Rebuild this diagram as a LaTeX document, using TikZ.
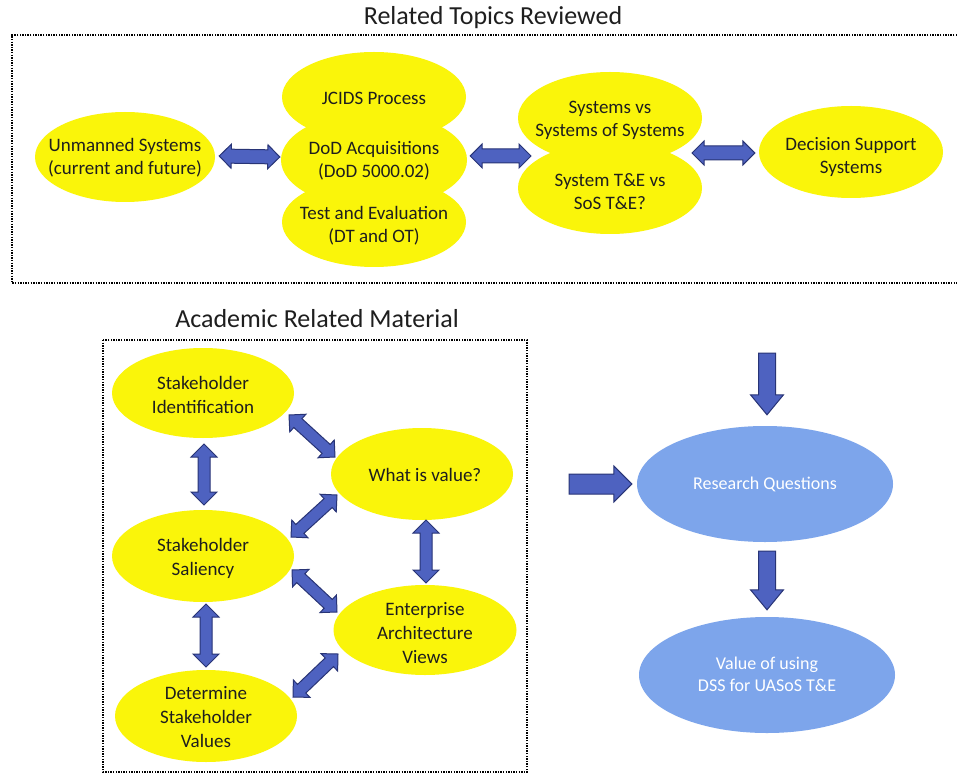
\documentclass[tikz,border=0pt]{standalone}
\usepackage{fontspec}
\setmainfont{Carlito}
\usetikzlibrary{shapes.geometric,calc}
\definecolor{yel}{RGB}{250,245,10}
\definecolor{lblue}{RGB}{125,165,235}
\definecolor{afill}{RGB}{78,98,192}
\definecolor{aline}{RGB}{40,52,118}
\definecolor{tdark}{RGB}{30,30,30}
\tikzset{
  ell/.style={ellipse, fill=yel, inner sep=0pt, draw=none},
  bell/.style={ellipse, fill=lblue, inner sep=0pt, draw=none},
  txt/.style={align=center, text=tdark, font=\fontsize{19}{23}\selectfont, inner sep=0pt},
  txtb/.style={align=center, text=tdark, font=\fontsize{19}{24}\selectfont, inner sep=0pt},
  wtxt/.style={align=center, text=white, font=\fontsize{18}{22}\selectfont, inner sep=0pt},
  ttl/.style={text=tdark, font=\fontsize{26}{30}\selectfont, inner sep=0pt},
  dotbox/.style={draw=black, line width=1.4pt, dash pattern=on 1.4pt off 1.2pt},
  barrow/.style={fill=afill, draw=aline, line width=1pt, line join=miter}
}
\newcommand\dblarr[5]{%
 \filldraw[barrow] (#1)
 -- ($(#1)!#5!(#2)!#4!90:(#2)$)
 -- ($(#1)!#5!(#2)!#3!90:(#2)$)
 -- ($(#2)!#5!(#1)!#3!-90:(#1)$)
 -- ($(#2)!#5!(#1)!#4!-90:(#1)$)
 -- (#2)
 -- ($(#2)!#5!(#1)!#4!90:(#1)$)
 -- ($(#2)!#5!(#1)!#3!90:(#1)$)
 -- ($(#1)!#5!(#2)!#3!-90:(#2)$)
 -- ($(#1)!#5!(#2)!#4!-90:(#2)$)
 -- cycle;}
\newcommand\sglarr[5]{%
 \filldraw[barrow] ($(#1)!#3!90:(#2)$)
 -- ($(#2)!#5!(#1)!#3!-90:(#1)$)
 -- ($(#2)!#5!(#1)!#4!-90:(#1)$)
 -- (#2)
 -- ($(#2)!#5!(#1)!#4!90:(#1)$)
 -- ($(#2)!#5!(#1)!#3!90:(#1)$)
 -- ($(#1)!#3!-90:(#2)$)
 -- cycle;}
\begin{document}
\begin{tikzpicture}[x=1pt,y=-1pt]
\useasboundingbox (0,0) rectangle (957,775);
\fill[white] (0,0) rectangle (957,775);

% ---------- top section ----------
\node[ttl] (t1) at (493,18) {Related Topics Reviewed};
\draw[dotbox] (957,35) -- (12,35) -- (12,283) -- (957,283);

\node[ell, minimum width=180, minimum height=90] (un) at (125,157) {};
\node[ell, minimum width=184, minimum height=90] (jc) at (374,97) {};
\node[ell, minimum width=186, minimum height=96] (dod) at (374,160) {};
\node[ell, minimum width=184, minimum height=90] (te) at (374,222) {};
\node[ell, minimum width=184, minimum height=92] (sv) at (610,118) {};
\node[ell, minimum width=184, minimum height=92] (st) at (610,188) {};
\node[ell, minimum width=184, minimum height=92] (dss) at (851,152) {};

\node[txt] (unt) at (125,158) {Unmanned Systems\\(current and future)};
\node[txt] (jct) at (374,98) {JCIDS Process};
\node[txt] (dodt) at (374,161) {DoD Acquisitions\\(DoD 5000.02)};
\node[txt] (tet) at (374,226) {Test and Evaluation\\(DT and OT)};
\node[txt] (svt) at (610,120) {Systems vs\\Systems of Systems};
\node[txt] (stt) at (610,192) {System T\&E vs\\SoS T\&E?};
\node[txt] (dsst) at (851,157) {Decision Support\\Systems};

\coordinate (a1s) at ($(un.east)+(4,-1)$);
\coordinate (a1e) at ($(dod.west)+(-1,-3)$);
\coordinate (a2s) at ($(dod.east)+(3,-4)$);
\coordinate (a2e) at ($(sv)+(-79,38)$);
\coordinate (a3s) at ($(st)+(82,-35)$);
\coordinate (a3e) at ($(dss.west)+(-4,1)$);
\dblarr{a1s}{a1e}{7pt}{12pt}{12pt}
\dblarr{a2s}{a2e}{7pt}{12pt}{12pt}
\dblarr{a3s}{a3e}{7pt}{12pt}{12pt}

% ---------- academic section ----------
\node[ttl] (t2) at (317,319) {Academic Related Material};
\draw[dotbox] (103,340) rectangle (527,772);

\node[ell, minimum width=182, minimum height=90] (si) at (203,393) {};
\node[ell, minimum width=182, minimum height=92] (wiv) at (422,474) {};
\node[ell, minimum width=182, minimum height=92] (ss) at (203,556) {};
\node[ell, minimum width=183, minimum height=90] (eav) at (425,630) {};
\node[ell, minimum width=182, minimum height=92] (dsv) at (206,716) {};

\node[txtb] (sit) at (203,395) {Stakeholder\\Identification};
\node[txtb] (wivt) at (425,475) {What is value?};
\node[txtb] (sst) at (203,558) {Stakeholder\\Saliency};
\node[txtb] (eavt) at (425,633) {Enterprise\\Architecture\\Views};
\node[txtb] (dsvt) at (206,717) {Determine\\Stakeholder\\Values};

\coordinate (b1s) at ($(si)+(1,51)$);
\coordinate (b1e) at ($(ss)+(1,-51)$);
\coordinate (b2s) at ($(ss)+(3,48)$);
\coordinate (b2e) at ($(dsv)+(0,-49)$);
\coordinate (b3s) at ($(wiv)+(4,46)$);
\coordinate (b3e) at ($(eav)+(1,-47)$);
\coordinate (b4s) at ($(si)+(86,22)$);
\coordinate (b4e) at ($(wiv)+(-87,-17)$);
\coordinate (b5s) at ($(wiv)+(-85,21)$);
\coordinate (b5e) at ($(ss)+(88,-19)$);
\coordinate (b6s) at ($(ss)+(89,14)$);
\coordinate (b6e) at ($(eav)+(-88,-18)$);
\coordinate (b7s) at ($(eav)+(-87,24)$);
\coordinate (b7e) at ($(dsv)+(87,-19)$);
\dblarr{b1s}{b1e}{6pt}{13pt}{13pt}
\dblarr{b2s}{b2e}{6pt}{13pt}{13pt}
\dblarr{b3s}{b3e}{6pt}{13pt}{13pt}
\dblarr{b4s}{b4e}{6pt}{12pt}{12pt}
\dblarr{b5s}{b5e}{6pt}{12pt}{12pt}
\dblarr{b6s}{b6e}{6pt}{12pt}{12pt}
\dblarr{b7s}{b7e}{6pt}{12pt}{12pt}

% ---------- right section ----------
\node[bell, minimum width=256, minimum height=116] (rq) at (765,484) {};
\node[bell, minimum width=256, minimum height=116] (val) at (767,675) {};
\node[wtxt] (rqt) at (765,484) {Research Questions};
\node[wtxt] (valt) at (767,674) {Value of using\\DSS for UASoS T\&E};

\coordinate (c1s) at (767,353);
\coordinate (c1e) at ($(rq.north)+(2,-11)$);
\coordinate (c2s) at (569,484);
\coordinate (c2e) at ($(rq.west)+(-5,0)$);
\coordinate (c3s) at ($(rq.south)+(2,9)$);
\coordinate (c3e) at ($(val.north)+(0,-7)$);
\sglarr{c1s}{c1e}{8.5pt}{16.5pt}{20pt}
\sglarr{c2s}{c2e}{10pt}{18pt}{18pt}
\sglarr{c3s}{c3e}{8.5pt}{16.5pt}{20pt}
\end{tikzpicture}
\end{document}
